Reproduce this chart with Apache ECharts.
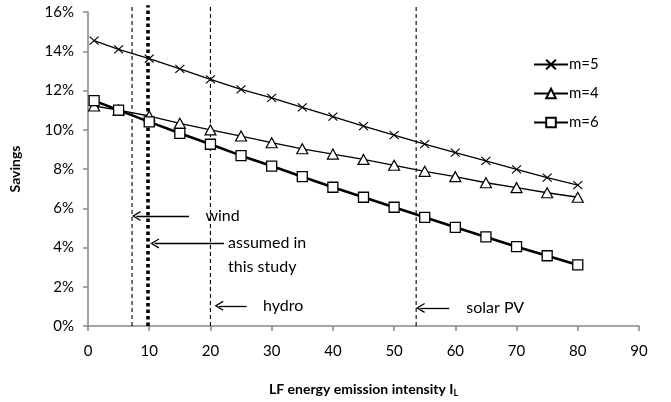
<!DOCTYPE html>
<html>
<head>
<meta charset="utf-8">
<script src="https://cdn.jsdelivr.net/npm/echarts@6/dist/echarts.min.js"></script>
<style>
  html, body { margin: 0; padding: 0; background: #fff; }
  #chart { width: 671px; height: 402px; }
</style>
</head>
<body>
<div id="chart"></div>
<script>
// LF energy emission intensity (x values)
var intensity = [1, 5, 10, 15, 20, 25, 30, 35, 40, 45, 50, 55, 60, 65, 70, 75, 80]
// savings in %
var savingsM5 = [14.54, 14.1, 13.62, 13.1, 12.57, 12.06, 11.62, 11.14, 10.67, 10.19, 9.73, 9.27, 8.83, 8.41, 7.98, 7.56, 7.18]
var savingsM4 = [11.21, 11.0, 10.7, 10.33, 9.99, 9.68, 9.34, 9.03, 8.76, 8.49, 8.19, 7.88, 7.61, 7.30, 7.05, 6.79, 6.56]
var savingsM6 = [11.48, 11.0, 10.4, 9.82, 9.26, 8.68, 8.15, 7.61, 7.07, 6.56, 6.05, 5.54, 5.03, 4.54, 4.04, 3.58, 3.11]

// reference intensities (vertical lines)
var refNames = ['wind', 'assumed in\nthis study', 'hydro', 'solar PV']
var refX = [7.2, 9.8, 20, 53.6]
var refSpan = [0, 16.35]

var FONT = 'Lato, "Open Sans", sans-serif'
var AXIS_GRAY = '#868686'
var chevron = 'path://M5,0 L10,9 L8.9,9.7 L5,2.7 L1.1,9.7 L0,9 Z'
var crossMark = 'path://M0,0 L10,10 M10,0 L0,10'

function pairs (xs, ys) {
  var out = []
  for (var i = 0; i < xs.length; i++) out.push([xs[i], ys[i]])
  return out
}

function refLine (i, style) {
  return {
    name: 'ref' + i,
    type: 'line',
    data: [[refX[i], refSpan[0]], [refX[i], refSpan[1]]],
    symbol: 'none',
    silent: true,
    clip: false,
    z: 1,
    lineStyle: style
  }
}

function arrow (fromX, toX, y) {
  return [
    { coord: [fromX, y], symbol: 'none', lineStyle: { color: '#000', width: 1.3, type: 'solid' } },
    { coord: [toX, y], symbol: chevron, symbolSize: [10, 9] }
  ]
}

function textAt (txt, x, y) {
  return { name: txt, coord: [x, y] }
}

var thinDash = { color: '#000', width: 1.1, type: [4, 3] }
var thickDot = { color: '#000', width: 3.6, type: [3.5, 3] }

var chart = echarts.init(document.getElementById('chart'))
chart.setOption({
  animation: false,
  textStyle: { fontFamily: FONT },
  grid: { left: 88, right: 32, top: 12, bottom: 76, outerBoundsMode: 'none' },
  legend: {
    orient: 'vertical',
    left: 528,
    top: 52,
    itemWidth: 34,
    itemHeight: 12,
    itemGap: 14,
    data: ['m=5', 'm=4', 'm=6'],
    textStyle: { fontFamily: FONT, fontSize: 15, color: '#000', padding: [0, 0, 0, -4] }
  },
  xAxis: {
    type: 'value',
    min: 0,
    max: 90,
    interval: 10,
    name: 'LF energy emission intensity I{sub|L}',
    nameLocation: 'middle',
    nameGap: 55,
    nameTextStyle: {
      fontFamily: FONT, fontSize: 14, fontWeight: 'bold', color: '#000',
      rich: { sub: { fontFamily: FONT, fontSize: 9, fontWeight: 'bold', color: '#000', verticalAlign: 'bottom', padding: [8, 0, 0, 0] } }
    },
    axisLine: { lineStyle: { color: AXIS_GRAY, width: 1.5 } },
    axisTick: { show: true, length: 5, lineStyle: { color: AXIS_GRAY, width: 1.5 } },
    axisLabel: { fontSize: 15, color: '#000', margin: 18 },
    splitLine: { show: false }
  },
  yAxis: {
    type: 'value',
    min: 0,
    max: 16,
    interval: 2,
    name: 'Savings',
    nameLocation: 'middle',
    nameGap: 66,
    nameTextStyle: { fontFamily: FONT, fontSize: 14, fontWeight: 'bold', color: '#000' },
    axisLine: { show: true, lineStyle: { color: AXIS_GRAY, width: 1.5 } },
    axisTick: { show: true, length: 5, lineStyle: { color: AXIS_GRAY, width: 1.5 } },
    axisLabel: { fontSize: 15, color: '#000', margin: 14, formatter: '{value}%' },
    splitLine: { show: false }
  },
  series: [
    refLine(0, thinDash),
    refLine(1, thickDot),
    refLine(2, thinDash),
    refLine(3, thinDash),
    {
      name: 'notes',
      type: 'line',
      data: [],
      silent: true,
      markLine: {
        silent: true,
        animation: false,
        label: { show: false },
        emphasis: { disabled: true },
        data: [
          arrow(16.5, 7.9, 5.6),
          arrow(22.2, 10.9, 4.21),
          arrow(25.9, 21.4, 1.03),
          arrow(59.0, 54.3, 0.92)
        ]
      },
      markPoint: {
        silent: true,
        animation: false,
        symbol: 'circle',
        symbolSize: 1,
        itemStyle: { color: 'rgba(0,0,0,0)' },
        label: {
          show: true,
          position: 'right',
          distance: 0,
          formatter: '{b}',
          fontFamily: FONT,
          fontSize: 16,
          lineHeight: 24,
          color: '#000',
          align: 'left'
        },
        data: [
          textAt(refNames[0], 19.1, 5.6),
          textAt(refNames[1], 22.8, 3.62),
          textAt(refNames[2], 28.5, 1.03),
          textAt(refNames[3], 61.7, 0.92)
        ]
      }
    },
    {
      name: 'm=5',
      type: 'line',
      data: pairs(intensity, savingsM5),
      symbol: crossMark,
      symbolSize: [9, 8],
      lineStyle: { color: '#000', width: 1.3 },
      itemStyle: { color: '#000', borderColor: '#000', borderWidth: 1.1 }
    },
    {
      name: 'm=4',
      type: 'line',
      data: pairs(intensity, savingsM4),
      symbol: 'triangle',
      symbolSize: [11, 10],
      lineStyle: { color: '#000', width: 1.3 },
      itemStyle: { color: '#fff', borderColor: '#000', borderWidth: 1.2 }
    },
    {
      name: 'm=6',
      type: 'line',
      data: pairs(intensity, savingsM6),
      symbol: 'rect',
      symbolSize: 10,
      lineStyle: { color: '#000', width: 2.6 },
      itemStyle: { color: '#fff', borderColor: '#000', borderWidth: 1.3 }
    }
  ]
})
</script>
</body>
</html>
